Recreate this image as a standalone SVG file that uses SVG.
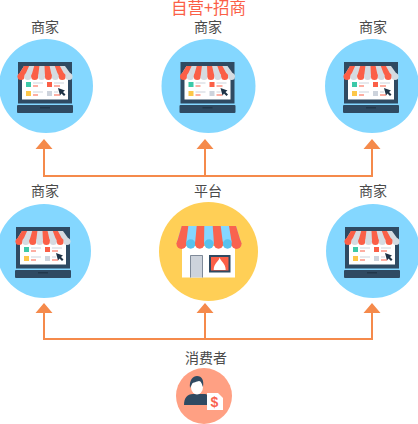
<svg xmlns="http://www.w3.org/2000/svg" width="418" height="424" viewBox="0 0 418 424">
<style>
text{font-family:"Noto Sans CJK SC","Noto Sans",sans-serif;font-size:14px;fill:#4a4a4a;text-anchor:middle}
.title{font-size:16.500px;fill:#fb5f47}
.line{fill:none;stroke:#f58a4b;stroke-width:2}
.arrow{fill:#f58a4b}
.blue{fill:#84d7ff}
.navy{fill:#2f4a62}
.red{fill:#fb5f47}
.gray{fill:#d5dbe1}
.lg{fill:#cdd3dc}
</style>
<defs>
<g id="laptop">
<rect x="-28" y="-24" width="54" height="41.500" class="navy"/>
<rect x="-24" y="-10" width="46" height="23.500" fill="#fff"/>
<rect x="-29" y="19" width="56" height="8" rx="1" class="navy"/>
<rect x="-6" y="21" width="10" height="1.500" fill="#22384c"/>
<path d="M-22-20H19L26.500-9.500H-28.500Z" class="gray"/>
<path d="M-22-20h5.100l-4.700 10.500h-6.900zM-11.800-20h5.200l-1.300 10.500h-6.900zM-1.500-20h5.100l2.300 10.500h-6.900zM8.800-20h5.100l5.700 10.500h-6.900z" class="red"/>
<circle cx="-25" cy="-9.500" r="3.500" class="red"/><circle cx="-18.200" cy="-9.500" r="3.500" class="gray"/><circle cx="-11.300" cy="-9.500" r="3.500" class="red"/><circle cx="-4.400" cy="-9.500" r="3.500" class="gray"/><circle cx="2.400" cy="-9.500" r="3.500" class="red"/><circle cx="9.300" cy="-9.500" r="3.500" class="gray"/><circle cx="16.200" cy="-9.500" r="3.500" class="red"/><circle cx="23" cy="-9.500" r="3.500" class="gray"/>
<rect x="-20" y="-4" width="5" height="5" fill="#3cc9a8"/><rect x="1" y="-4" width="5" height="5" class="red"/>
<rect x="-20" y="5" width="5" height="5" fill="#fdc748"/><rect x="1" y="5" width="5" height="5" class="lg"/>
<path d="M-13-3h10M8-3h10M-13 6h10M8 6h4" fill="none" stroke="#cdd3dc" stroke-width="1.200"/>
<path d="M-13 0h5M8 0h6M-13 9h5M8 9h6" fill="none" stroke="#fb5f47" stroke-width="1.200"/>
<path d="M12 2l7 2.500-2 1.500 2.500 2.500-1.500 1.500-2.500-2.500-1.500 2z" fill="#1f3346"/>
</g>
</defs>
<g id="connectors">
<path class="line" d="M44 148V176H372V148M205 148V176"/>
<path class="arrow" d="M44 139l8.500 10h-17zM205 139l8.500 10h-17zM372 139l8.500 10h-17z"/>
<path class="line" d="M44 312V339H372V312M205 312V339"/>
<path class="arrow" d="M44 303l8.500 10h-17zM205 303l8.500 10h-17zM372 303l8.500 10h-17z"/>
</g>
<text class="title" x="208.500" y="14">自营+招商</text>
<g id="m1"><text x="45" y="32">商家</text><circle cx="46" cy="86" r="47" class="blue"/><use href="#laptop" x="46" y="86"/></g>
<g id="m2"><text x="208" y="32">商家</text><circle cx="208.500" cy="86" r="47" class="blue"/><use href="#laptop" x="208.500" y="86"/></g>
<g id="m3"><text x="373" y="32">商家</text><circle cx="372" cy="86" r="47" class="blue"/><use href="#laptop" x="372" y="86"/></g>
<g id="m4"><text x="45" y="196">商家</text><circle cx="44" cy="251" r="47" class="blue"/><use href="#laptop" x="44" y="251"/></g>
<g id="m5"><text x="373" y="196">商家</text><circle cx="373" cy="251" r="47" class="blue"/><use href="#laptop" x="373" y="251"/></g>
<g id="platform"><text x="208" y="196">平台</text>
<circle cx="208.500" cy="251.500" r="49.500" fill="#ffcf56"/>
<rect x="182" y="246" width="53" height="31.500" fill="#fff"/>
<path d="M181.700 226H236L241.500 244H176.500Z" fill="#84d7ff"/>
<path d="M181.700 226h6.600L186 244h-9.500zM196.700 226h7.600L204 244h-9zM212.700 226h8L223 244h-9zM229 226h7l5.500 18H232z" fill="#f9634f"/>
<circle cx="181.500" cy="244" r="5" fill="#f9634f"/><circle cx="190.700" cy="244" r="4.700" fill="#57c2ee"/><circle cx="199.700" cy="244" r="4.700" fill="#f9634f"/><circle cx="209" cy="244" r="4.700" fill="#57c2ee"/><circle cx="218.500" cy="244" r="4.700" fill="#f9634f"/><circle cx="227.500" cy="244" r="4.700" fill="#57c2ee"/><circle cx="236.500" cy="244" r="5" fill="#f9634f"/>
<rect x="190" y="255" width="13" height="22.500" class="lg"/>
<path d="M190.500 277.500V255.500H202.500V277.500" fill="none" stroke="#7f8a99" stroke-width="1"/>
<rect x="210" y="256" width="19.500" height="15.500" class="red" stroke="#2f4a62" stroke-width="2"/>
<path d="M219.700 257.500c1 4 6 6 6 12.500h-12c0-6.500 5-8.500 6-12.500z" fill="#fff"/>
</g>
<g id="consumer"><text x="206" y="363">消费者</text>
<circle cx="204" cy="396" r="28" fill="#ffa083"/>
<path d="M184 405c0-7 3-11 9-11h11c4 0 6 2 6 11z" class="navy"/>
<ellipse cx="197" cy="387" rx="6" ry="7.500" fill="#fff"/>
<path d="M190 388c-1-8 3-12 7-12 5 0 7 4 6 11-1-3-2-6-4-6-2 1-6 1-7 3z" class="navy"/>
<path d="M207 393h11l5 5v12h-16z" fill="#fff"/>
<text x="214.500" y="407" style="font-size:14px;fill:#f9634f;font-weight:bold;font-family:'Liberation Sans',sans-serif">$</text>
</g>
</svg>
